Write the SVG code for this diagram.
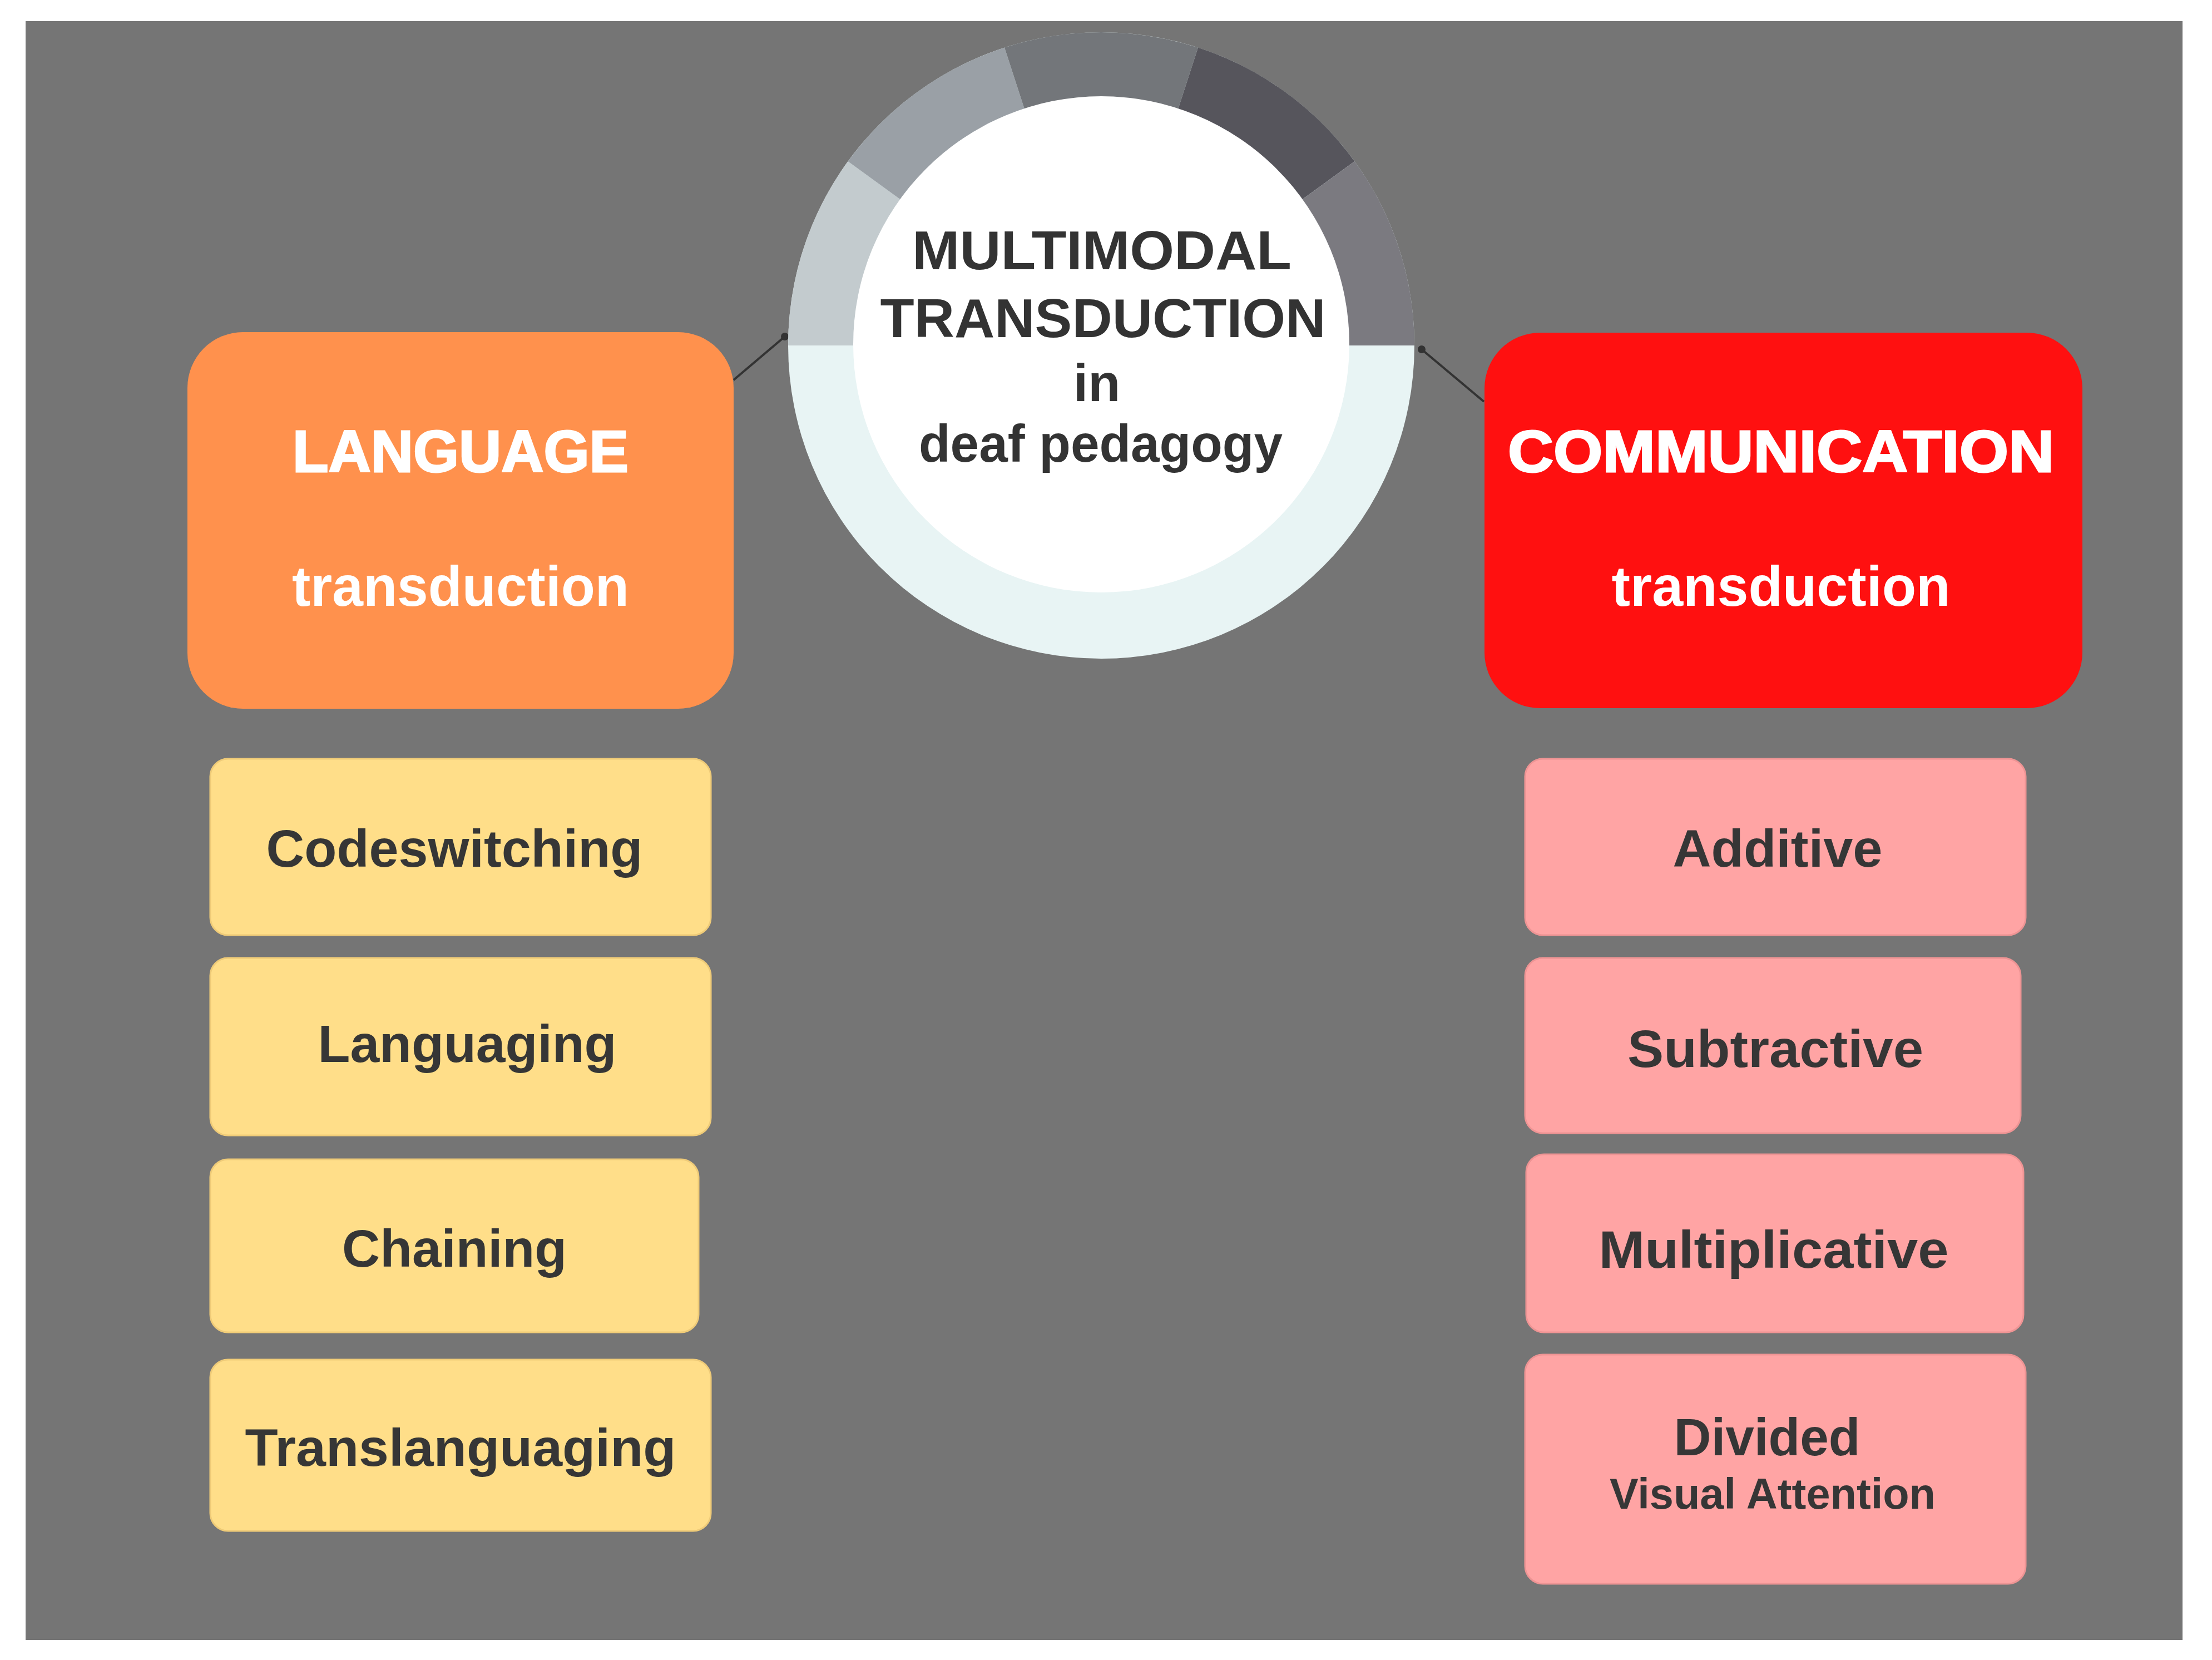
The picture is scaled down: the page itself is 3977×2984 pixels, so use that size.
<svg xmlns="http://www.w3.org/2000/svg" width="3977" height="2984" viewBox="0 0 3977 2984">
<style>
.t{font-family:"Liberation Sans",Arial,sans-serif;font-weight:bold;text-anchor:middle}
.head{fill:#ffffff;stroke:#ffffff;stroke-width:3}
.sub{fill:#ffffff}
.ctr{fill:#333333}
.item{fill:#363636;font-size:95px}
.yel{fill:#FFDE89;stroke:#EFCB78;stroke-width:3}
.pnk{fill:#FFA4A4;stroke:#EE9494;stroke-width:3}
.conn{stroke:#333333;stroke-width:4;fill:none}
</style>
<rect x="0" y="0" width="3977" height="2984" fill="#ffffff"/>
<rect x="46" y="38" width="3878" height="2910" fill="#757575"/>
<g id="connectors">
<line class="conn" x1="1319" y1="683" x2="1411" y2="605"/>
<circle cx="1411" cy="605" r="7" fill="#333333"/>
<line class="conn" x1="2556" y1="628" x2="2668" y2="722"/>
<circle cx="2556" cy="628" r="7" fill="#333333"/>
</g>
<g id="center">
<circle cx="1980" cy="621" r="563" fill="#E8F4F4"/>
<path d="M1980 621 L1417 621 A563 563 0 0 1 1524.5 290.1 Z" fill="#C3CBCE"/>
<path d="M1980 621 L1524.5 290.1 A563 563 0 0 1 1806 85.6 Z" fill="#9AA0A6"/>
<path d="M1980 621 L1806 85.6 A563 563 0 0 1 2154 85.6 Z" fill="#73767A"/>
<path d="M1980 621 L2154 85.6 A563 563 0 0 1 2435.5 290.1 Z" fill="#56555C"/>
<path d="M1980 621 L2435.5 290.1 A563 563 0 0 1 2543 621 Z" fill="#7B7A80"/>
<circle cx="1980" cy="619" r="446" fill="#ffffff"/>
<text class="t ctr" x="1981" y="484" font-size="98" textLength="682" lengthAdjust="spacingAndGlyphs">MULTIMODAL</text>
<text class="t ctr" x="1983" y="606" font-size="98" textLength="801" lengthAdjust="spacingAndGlyphs">TRANSDUCTION</text>
<text class="t ctr" x="1972" y="721" font-size="95">in</text>
<text class="t ctr" x="1979" y="830" font-size="95" textLength="654" lengthAdjust="spacingAndGlyphs">deaf pedagogy</text>
</g>
<g id="language">
<rect x="337" y="597" width="982" height="677" rx="100" fill="#FF914D"/>
<text class="t head" x="828" y="848" font-size="106" textLength="604" lengthAdjust="spacingAndGlyphs">LANGUAGE</text>
<text class="t sub" x="828" y="1089" font-size="102" textLength="606" lengthAdjust="spacingAndGlyphs">transduction</text>
</g>
<g id="communication">
<rect x="2669" y="598" width="1075" height="675" rx="100" fill="#FF1010"/>
<text class="t head" x="3202" y="848" font-size="106" textLength="982" lengthAdjust="spacingAndGlyphs">COMMUNICATION</text>
<text class="t sub" x="3202" y="1089" font-size="102" textLength="609" lengthAdjust="spacingAndGlyphs">transduction</text>
</g>
<g id="codeswitching">
<rect class="yel" x="378" y="1364" width="900" height="317" rx="32"/>
<text class="t item" x="817" y="1558" textLength="677" lengthAdjust="spacingAndGlyphs">Codeswitching</text>
</g>
<g id="languaging">
<rect class="yel" x="378" y="1722" width="900" height="319" rx="32"/>
<text class="t item" x="840" y="1909" textLength="537" lengthAdjust="spacingAndGlyphs">Languaging</text>
</g>
<g id="chaining">
<rect class="yel" x="378" y="2084" width="878" height="311" rx="32"/>
<text class="t item" x="817" y="2277" textLength="404" lengthAdjust="spacingAndGlyphs">Chaining</text>
</g>
<g id="translanguaging">
<rect class="yel" x="378" y="2444" width="900" height="308" rx="32"/>
<text class="t item" x="828" y="2635" textLength="775" lengthAdjust="spacingAndGlyphs">Translanguaging</text>
</g>
<g id="additive">
<rect class="pnk" x="2742" y="1364" width="900" height="317" rx="32"/>
<text class="t item" x="3196" y="1558" textLength="377" lengthAdjust="spacingAndGlyphs">Additive</text>
</g>
<g id="subtractive">
<rect class="pnk" x="2742" y="1722" width="891" height="315" rx="32"/>
<text class="t item" x="3192" y="1918" textLength="532" lengthAdjust="spacingAndGlyphs">Subtractive</text>
</g>
<g id="multiplicative">
<rect class="pnk" x="2744" y="2075" width="894" height="320" rx="32"/>
<text class="t item" x="3189" y="2279" textLength="629" lengthAdjust="spacingAndGlyphs">Multiplicative</text>
</g>
<g id="divided">
<rect class="pnk" x="2742" y="2435" width="900" height="412" rx="32"/>
<text class="t item" x="3177" y="2616" textLength="335" lengthAdjust="spacingAndGlyphs">Divided</text>
<text class="t" x="3187" y="2712" font-size="77" fill="#363636" textLength="586" lengthAdjust="spacingAndGlyphs">Visual Attention</text>
</g>
</svg>
